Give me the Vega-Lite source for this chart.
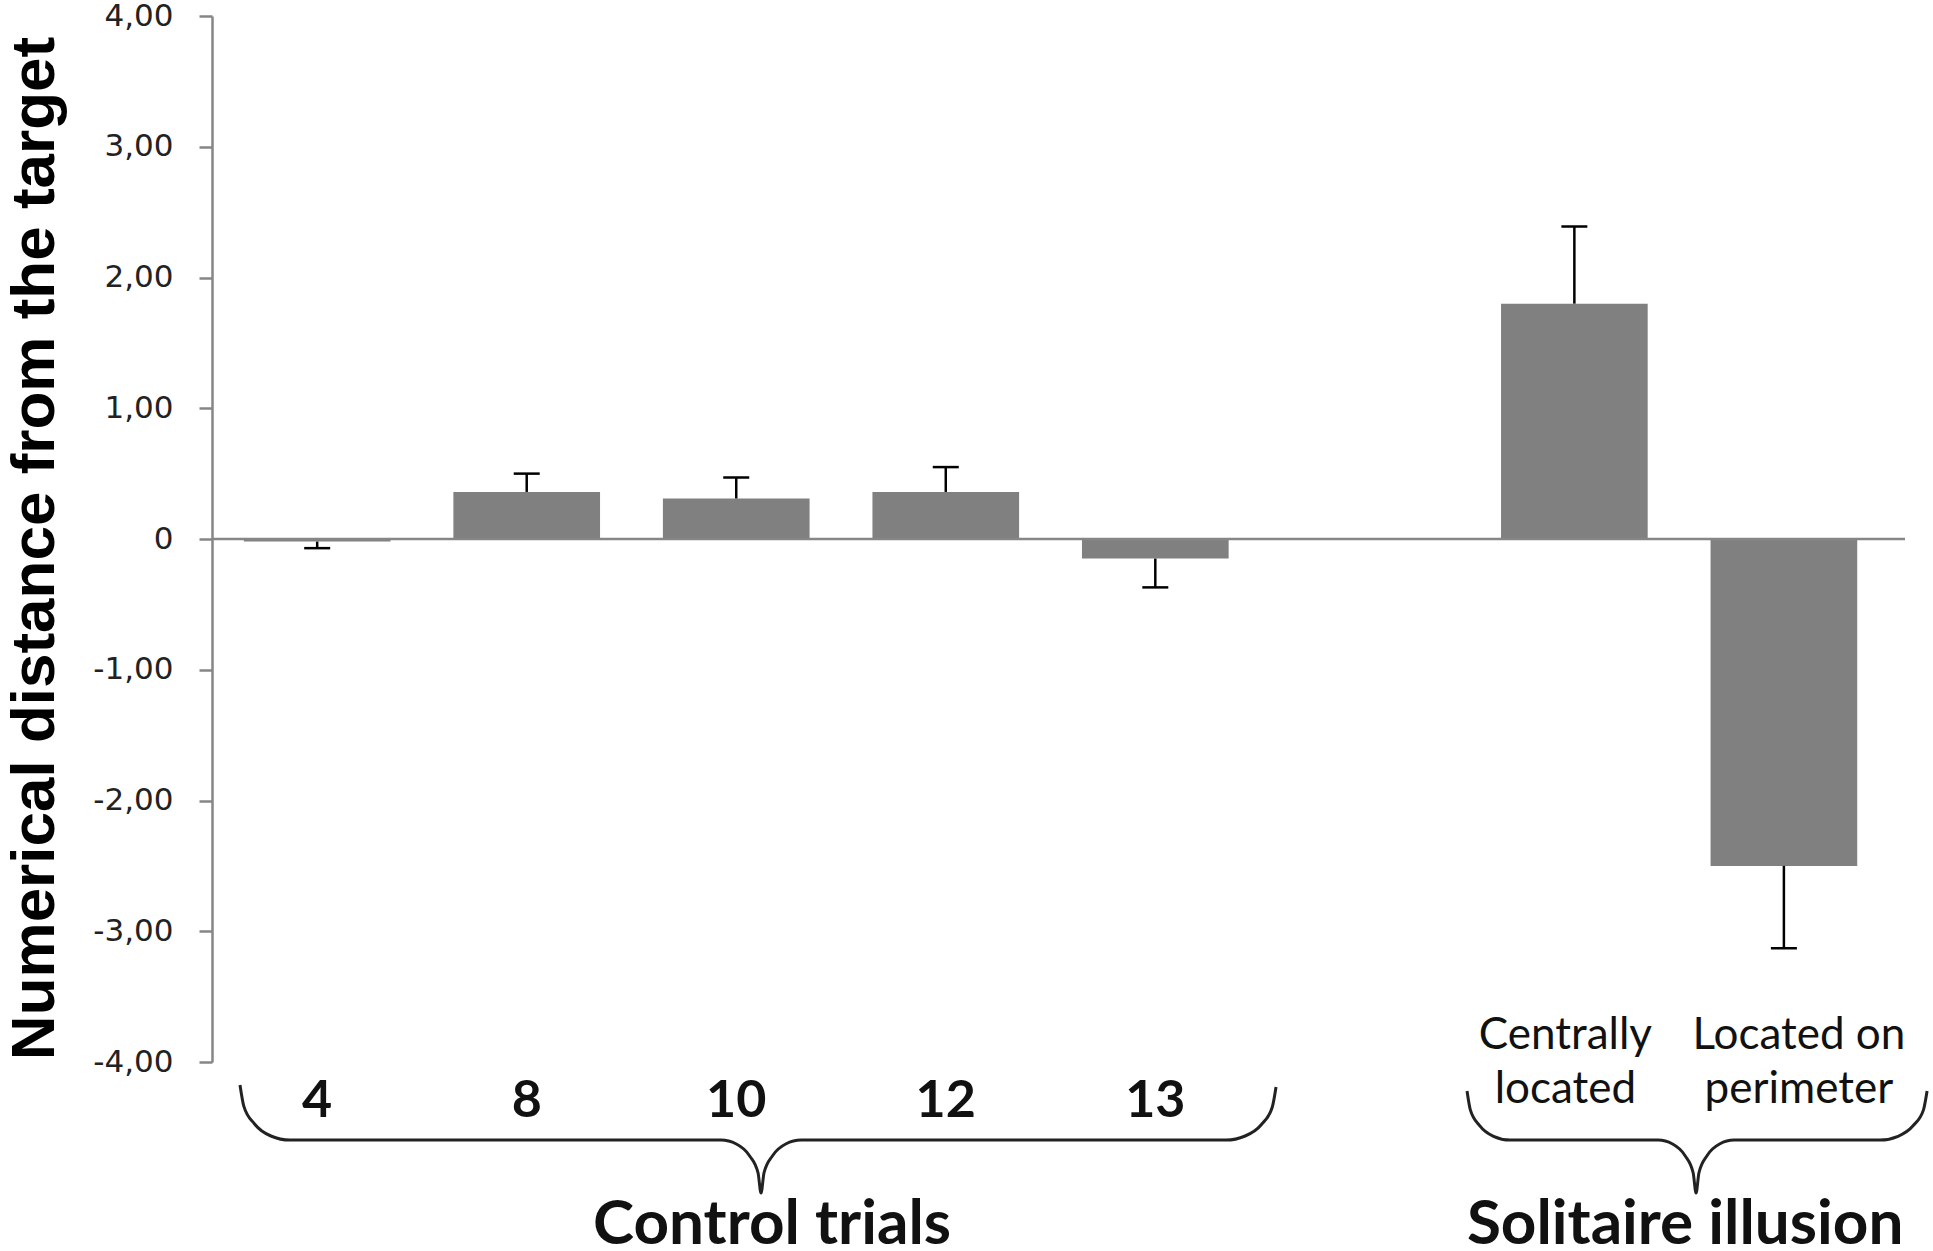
{
  "$schema": "https://vega.github.io/schema/vega-lite/v6.json",
  "width": 1693,
  "height": 1046,
  "autosize": {"type": "none"},
  "padding": {"left": 212, "top": 16, "right": 28, "bottom": 189},
  "background": "white",
  "config": {"view": {"stroke": null}},
  "datasets": {
    "trials": [
      {"cond": "4", "mean": -0.02, "errEnd": -0.07},
      {"cond": "8", "mean": 0.36, "errEnd": 0.50},
      {"cond": "10", "mean": 0.31, "errEnd": 0.47},
      {"cond": "12", "mean": 0.36, "errEnd": 0.55},
      {"cond": "13", "mean": -0.15, "errEnd": -0.37},
      {"cond": "Centrally located", "mean": 1.80, "errEnd": 2.39},
      {"cond": "Located on perimeter", "mean": -2.50, "errEnd": -3.13}
    ],
    "braces": [
      {"brace": "control", "u": 0.1336, "v": -4.176},
      {"brace": "control", "u": 0.1517, "v": -4.337},
      {"brace": "control", "u": 0.2032, "v": -4.474},
      {"brace": "control", "u": 0.2810, "v": -4.566},
      {"brace": "control", "u": 0.3721, "v": -4.597},
      {"brace": "control", "u": 2.4284, "v": -4.597},
      {"brace": "control", "u": 2.5014, "v": -4.627},
      {"brace": "control", "u": 2.5635, "v": -4.715},
      {"brace": "control", "u": 2.6050, "v": -4.847},
      {"brace": "control", "u": 2.6193, "v": -5.002},
      {"brace": "control", "u": 2.6336, "v": -4.847},
      {"brace": "control", "u": 2.6751, "v": -4.715},
      {"brace": "control", "u": 2.7371, "v": -4.627},
      {"brace": "control", "u": 2.8101, "v": -4.597},
      {"brace": "control", "u": 4.8378, "v": -4.597},
      {"brace": "control", "u": 4.9289, "v": -4.566},
      {"brace": "control", "u": 5.0067, "v": -4.478},
      {"brace": "control", "u": 5.0582, "v": -4.346},
      {"brace": "control", "u": 5.0763, "v": -4.191},
      {"brace": "solitaire", "u": 5.9876, "v": -4.222},
      {"brace": "solitaire", "u": 6.0033, "v": -4.366},
      {"brace": "solitaire", "u": 6.0477, "v": -4.486},
      {"brace": "solitaire", "u": 6.1140, "v": -4.568},
      {"brace": "solitaire", "u": 6.1927, "v": -4.597},
      {"brace": "solitaire", "u": 6.8989, "v": -4.597},
      {"brace": "solitaire", "u": 6.9680, "v": -4.627},
      {"brace": "solitaire", "u": 7.0272, "v": -4.715},
      {"brace": "solitaire", "u": 7.0663, "v": -4.847},
      {"brace": "solitaire", "u": 7.0802, "v": -5.002},
      {"brace": "solitaire", "u": 7.0940, "v": -4.847},
      {"brace": "solitaire", "u": 7.1331, "v": -4.715},
      {"brace": "solitaire", "u": 7.1923, "v": -4.627},
      {"brace": "solitaire", "u": 7.2615, "v": -4.597},
      {"brace": "solitaire", "u": 7.9580, "v": -4.597},
      {"brace": "solitaire", "u": 8.0439, "v": -4.568},
      {"brace": "solitaire", "u": 8.1164, "v": -4.486},
      {"brace": "solitaire", "u": 8.1651, "v": -4.366},
      {"brace": "solitaire", "u": 8.1823, "v": -4.222}
    ],
    "groups": [
      {"label": "Control trials", "u": 2.672, "v": -5.25},
      {"label": "Solitaire illusion", "u": 7.028, "v": -5.25}
    ]
  },
  "layer": [
    {
      "data": {"name": "trials"},
      "encoding": {
        "x": {
          "field": "cond",
          "type": "nominal",
          "sort": null,
          "title": null,
          "scale": {
            "domain": ["4", "8", "10", "12", "13", " ", "Centrally located", "Located on perimeter"],
            "paddingInner": 0.3,
            "paddingOuter": 0.19,
            "align": 0.4
          },
          "axis": {
            "domain": false,
            "ticks": false,
            "tickSize": 0,
            "labelAngle": 0,
            "labelLimit": 0,
            "labelExpr": "datum.value == 'Centrally located' ? ['Centrally', 'located'] : datum.value == 'Located on perimeter' ? ['Located on', 'perimeter'] : datum.label",
            "labelFont": "Lato",
            "labelColor": "#111",
            "labelBaseline": "middle",
            "labelLineHeight": 54,
            "labelFontSize": {"condition": {"test": "length(datum.value) > 3", "value": 44}, "value": 52},
            "labelFontWeight": {"condition": {"test": "length(datum.value) > 3", "value": "normal"}, "value": "bold"},
            "labelPadding": {"condition": {"test": "length(datum.value) > 3", "value": -27}, "value": 38},
            "labelOffset": {
              "condition": [
                {"test": "datum.value == 'Centrally located'", "value": -9},
                {"test": "datum.value == 'Located on perimeter'", "value": 15}
              ],
              "value": 0
            }
          }
        }
      },
      "layer": [
        {
          "mark": {"type": "bar", "color": "#808080"},
          "encoding": {
            "y": {
              "field": "mean",
              "type": "quantitative",
              "title": "Numerical distance from the target",
              "scale": {"domain": [-4, 4], "nice": false},
              "axis": {
                "values": [-4, -3, -2, -1, 0, 1, 2, 3, 4],
                "labelExpr": "datum.value == 0 ? '0' : (datum.value < 0 ? '-' : '') + replace(format(abs(datum.value), '.2f'), '.', ',')",
                "grid": false,
                "domainColor": "#868686",
                "domainWidth": 2.5,
                "tickColor": "#868686",
                "tickWidth": 2.5,
                "tickSize": 13,
                "labelPadding": 26,
                "labelFont": "DejaVu Sans",
                "labelFontSize": 31,
                "labelColor": "#222",
                "titleFont": "Liberation Sans",
                "titleFontSize": 62,
                "titleFontWeight": "bold",
                "titleColor": "#000",
                "titleAngle": -90,
                "titleX": -159,
                "titleY": 532,
                "titleAlign": "center",
                "titleBaseline": "alphabetic"
              }
            }
          }
        },
        {
          "mark": {"type": "rule", "color": "#000", "strokeWidth": 2.5},
          "encoding": {
            "y": {"field": "mean", "type": "quantitative", "title": "Numerical distance from the target"},
            "y2": {"field": "errEnd"}
          }
        },
        {
          "mark": {"type": "tick", "color": "#000", "size": 26, "thickness": 2.5, "opacity": 1},
          "encoding": {
            "y": {"field": "errEnd", "type": "quantitative", "title": "Numerical distance from the target"}
          }
        }
      ]
    },
    {
      "data": {"values": [{}]},
      "mark": {"type": "rule", "color": "#868686", "strokeWidth": 2.5},
      "encoding": {"y": {"datum": 0, "type": "quantitative", "title": "Numerical distance from the target"}}
    },
    {
      "data": {"name": "braces"},
      "mark": {"type": "line", "color": "#222", "strokeWidth": 3, "interpolate": "monotone", "clip": false},
      "encoding": {
        "x": {"field": "u", "type": "quantitative", "scale": {"domain": [0, 8.077], "nice": false, "zero": false}, "axis": null},
        "y": {"field": "v", "type": "quantitative", "title": "Numerical distance from the target"},
        "detail": {"field": "brace"}
      }
    },
    {
      "data": {"name": "groups"},
      "mark": {"type": "text", "font": "Lato", "fontWeight": "bold", "fontSize": 62, "color": "#111", "baseline": "middle", "clip": false},
      "encoding": {
        "x": {"field": "u", "type": "quantitative", "scale": {"domain": [0, 8.077], "nice": false, "zero": false}, "axis": null},
        "y": {"field": "v", "type": "quantitative", "title": "Numerical distance from the target"},
        "text": {"field": "label"}
      }
    }
  ],
  "resolve": {"scale": {"x": "independent"}}
}
